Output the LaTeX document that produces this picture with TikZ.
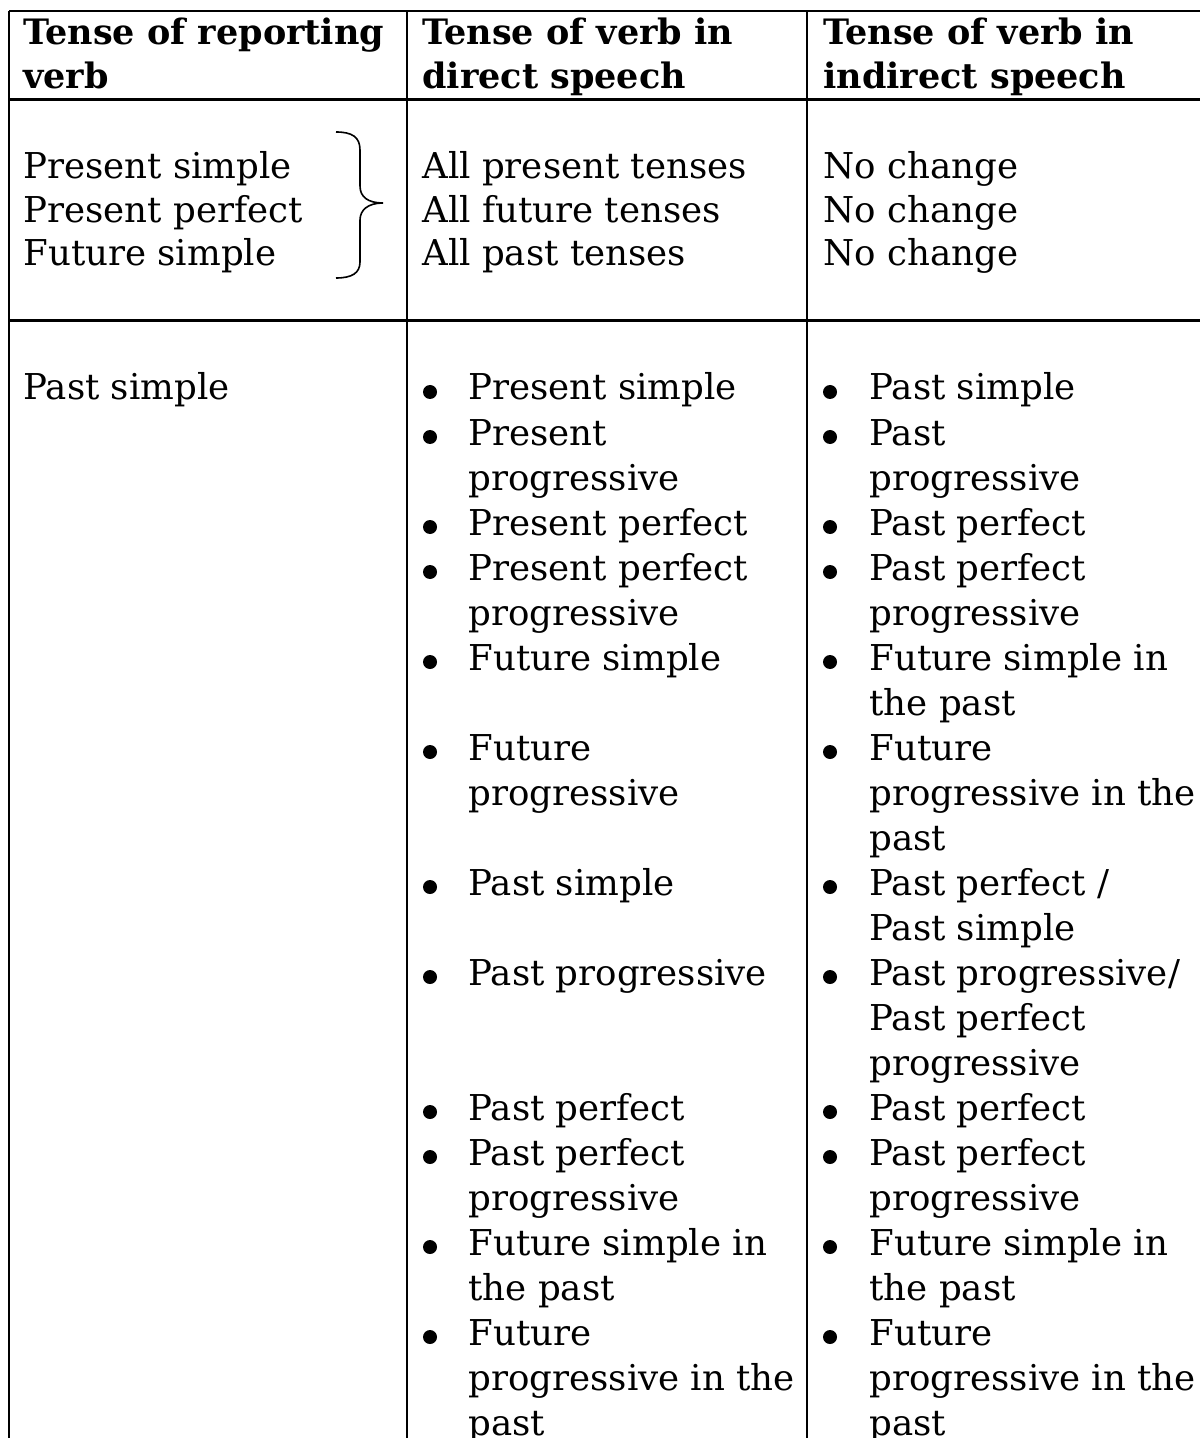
\documentclass[tikz,border=0pt]{standalone}
\usepackage{fontspec}
\setmainfont{DejaVu Serif}
\newcommand\plainline[3]{\node[body] (t#1-#2) at (#1,{400+45*#2}) {#3};}
\newcommand\bulline[4]{\node[bul] (d#2-#3) at (#1,{392+45*#3}) {};\plainline{#2}{#3}{#4}}
\begin{document}
\begin{tikzpicture}[x=0.5pt,y=-0.5pt,
  rule/.style={line width=1.25pt},
  head/.style={anchor=base west, inner sep=0pt, font=\fontsize{17.5}{20}\selectfont\bfseries},
  body/.style={anchor=base west, inner sep=0pt, font=\fontsize{17.8}{22}\selectfont},
  bul/.style={circle, fill=black, inner sep=0pt, minimum size=7pt},
  brace/.style={line width=0.8pt}]
\useasboundingbox (0,0) rectangle (1200,1438);
% table rules
\draw[rule] (9,11) -- (1200,11);
\draw[rule] (9,99.5) -- (1200,99.5);
\draw[rule] (9,320.5) -- (1200,320.5);
\draw[rule] (9,11) -- (9,1438);
\draw[rule] (407,11) -- (407,1438);
\draw[rule] (807,11) -- (807,1438);
% header
\node[head] (h1a) at (23,45) {Tense of reporting};
\node[head] (h1b) at (23,89) {verb};
\node[head] (h2a) at (422,45) {Tense of verb in};
\node[head] (h2b) at (422,89) {direct speech};
\node[head] (h3a) at (823,45) {Tense of verb in};
\node[head] (h3b) at (823,89) {indirect speech};
% row 1
\node[body] (r1a) at (23,179) {Present simple};
\node[body] (r1b) at (23,222.5) {Present perfect};
\node[body] (r1c) at (23,266) {Future simple};
\node[body] (r2a) at (422,179) {All present tenses};
\node[body] (r2b) at (422,222.5) {All future tenses};
\node[body] (r2c) at (422,266) {All past tenses};
\node[body] (r3a) at (823,179) {No change};
\node[body] (r3b) at (823,222.5) {No change};
\node[body] (r3c) at (823,266) {No change};
% brace
\draw[brace] (336,132) .. controls (352,132) and (360,137) .. (360,150)
  -- (360,186) .. controls (360,197) and (368,203) .. (383,203)
  .. controls (368,203) and (360,210) .. (360,220)
  -- (360,262) .. controls (360,273) and (352,278) .. (336,278);
% row 2, column 1
\node[body] (ps) at (23,400) {Past simple};
% row 2, column 2
\bulline{430}{468}{0}{Present simple}
\bulline{430}{468}{1}{Present}
\plainline{468}{2}{progressive}
\bulline{430}{468}{3}{Present perfect}
\bulline{430}{468}{4}{Present perfect}
\plainline{468}{5}{progressive}
\bulline{430}{468}{6}{Future simple}
\bulline{430}{468}{8}{Future}
\plainline{468}{9}{progressive}
\bulline{430}{468}{11}{Past simple}
\bulline{430}{468}{13}{Past progressive}
\bulline{430}{468}{16}{Past perfect}
\bulline{430}{468}{17}{Past perfect}
\plainline{468}{18}{progressive}
\bulline{430}{468}{19}{Future simple in}
\plainline{468}{20}{the past}
\bulline{430}{468}{21}{Future}
\plainline{468}{22}{progressive in the}
\plainline{468}{23}{past}
% row 2, column 3
\bulline{830}{869}{0}{Past simple}
\bulline{830}{869}{1}{Past}
\plainline{869}{2}{progressive}
\bulline{830}{869}{3}{Past perfect}
\bulline{830}{869}{4}{Past perfect}
\plainline{869}{5}{progressive}
\bulline{830}{869}{6}{Future simple in}
\plainline{869}{7}{the past}
\bulline{830}{869}{8}{Future}
\plainline{869}{9}{progressive in the}
\plainline{869}{10}{past}
\bulline{830}{869}{11}{Past perfect /}
\plainline{869}{12}{Past simple}
\bulline{830}{869}{13}{Past progressive/}
\plainline{869}{14}{Past perfect}
\plainline{869}{15}{progressive}
\bulline{830}{869}{16}{Past perfect}
\bulline{830}{869}{17}{Past perfect}
\plainline{869}{18}{progressive}
\bulline{830}{869}{19}{Future simple in}
\plainline{869}{20}{the past}
\bulline{830}{869}{21}{Future}
\plainline{869}{22}{progressive in the}
\plainline{869}{23}{past}
\end{tikzpicture}
\end{document}
